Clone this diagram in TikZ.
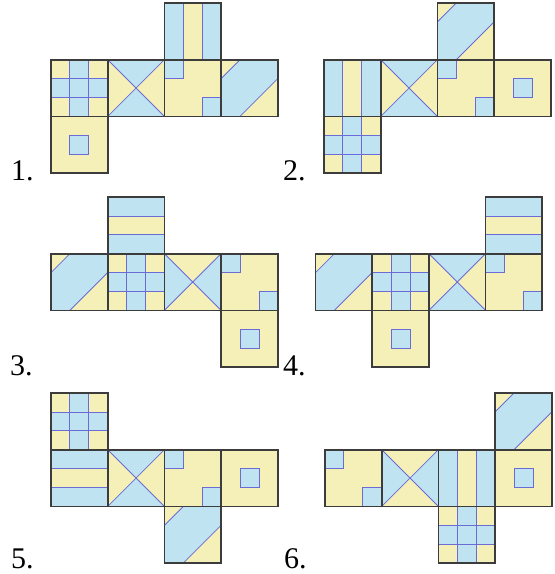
\documentclass[tikz,border=0pt]{standalone}
\usepackage{fontspec}
\setmainfont{Liberation Serif}
\definecolor{cb}{HTML}{BFE3F0}
\definecolor{cy}{HTML}{F5F0B8}
\definecolor{cl}{HTML}{6B6BD6}
\definecolor{co}{HTML}{3C3C3C}
\pgfdeclarelayer{top}
\pgfsetlayers{main,top}
\newcommand{\faceoutline}{\begin{pgfonlayer}{top}\draw[outl] (0,0) rectangle (1,1);\end{pgfonlayer}}
\tikzset{
 inner/.style={draw=cl,line width=0.8pt},
 outl/.style={draw=co,line width=1.7pt},
 lab/.style={anchor=base west,inner sep=0pt,font=\fontsize{30}{30}\selectfont},
 fc/.style={scale=56.7},
 facegrid/.pic={
  \fill[cy] (0,0) rectangle (1,1);
  \fill[cb] (0.3333,0) rectangle (0.6667,1);
  \fill[cb] (0,0.3333) rectangle (1,0.6667);
  \draw[inner] (0.3333,0)--(0.3333,1) (0.6667,0)--(0.6667,1) (0,0.3333)--(1,0.3333) (0,0.6667)--(1,0.6667);
  \faceoutline
 },
 facextb/.pic={
  \fill[cy] (0,0) rectangle (1,1);
  \fill[cb] (0,0)--(1,0)--(0.5,0.5)--cycle;
  \fill[cb] (0,1)--(1,1)--(0.5,0.5)--cycle;
  \draw[inner] (0,0)--(1,1) (1,0)--(0,1);
  \faceoutline
 },
 facexlr/.pic={
  \fill[cy] (0,0) rectangle (1,1);
  \fill[cb] (0,0)--(0,1)--(0.5,0.5)--cycle;
  \fill[cb] (1,0)--(1,1)--(0.5,0.5)--cycle;
  \draw[inner] (0,0)--(1,1) (1,0)--(0,1);
  \faceoutline
 },
 facesv/.pic={
  \fill[cy] (0,0) rectangle (1,1);
  \fill[cb] (0,0) rectangle (0.3333,1);
  \fill[cb] (0.6667,0) rectangle (1,1);
  \draw[inner] (0.3333,0)--(0.3333,1) (0.6667,0)--(0.6667,1);
  \faceoutline
 },
 facesh/.pic={
  \fill[cy] (0,0) rectangle (1,1);
  \fill[cb] (0,0) rectangle (1,0.3333);
  \fill[cb] (0,0.6667) rectangle (1,1);
  \draw[inner] (0,0.3333)--(1,0.3333) (0,0.6667)--(1,0.6667);
  \faceoutline
 },
 facecorn/.pic={
  \fill[cy] (0,0) rectangle (1,1);
  \fill[cb] (0,0) rectangle (0.3333,0.3333);
  \fill[cb] (0.6667,0.6667) rectangle (1,1);
  \draw[inner] (0.3333,0)--(0.3333,0.3333)--(0,0.3333) (0.6667,1)--(0.6667,0.6667)--(1,0.6667);
  \faceoutline
 },
 facecen/.pic={
  \fill[cy] (0,0) rectangle (1,1);
  \fill[cb] (0.3333,0.3333) rectangle (0.6667,0.6667);
  \draw[inner] (0.3333,0.3333) rectangle (0.6667,0.6667);
  \faceoutline
 },
 facediag/.pic={
  \fill[cy] (0,0) rectangle (1,1);
  \fill[cb] (0.3333,0)--(1,0)--(1,0.3333)--(0.3333,1)--(0,1)--(0,0.3333)--cycle;
  \draw[inner] (0.3333,0)--(0,0.3333) (1,0.3333)--(0.3333,1);
  \faceoutline
 },
}
\begin{document}
\begin{tikzpicture}[x=1pt,y=-1pt]
\useasboundingbox (0,0) rectangle (555,574);
% Net 1
\pic[fc] at (51,59.7) {facegrid};
\pic[fc] at (107.7,59.7) {facextb};
\pic[fc] at (164.4,59.7) {facecorn};
\pic[fc] at (221.1,59.7) {facediag};
\pic[fc] at (164.4,3) {facesv};
\pic[fc] at (51,116.4) {facecen};
\node[lab] (l1) at (11,180) {1.};
% Net 2
\pic[fc] at (324,59.7) {facesv};
\pic[fc] at (380.7,59.7) {facextb};
\pic[fc] at (437.4,59.7) {facecorn};
\pic[fc] at (494.1,59.7) {facecen};
\pic[fc] at (437.4,3) {facediag};
\pic[fc] at (324,116.4) {facegrid};
\node[lab] (l2) at (283,180) {2.};
% Net 3
\pic[fc] at (51,253.7) {facediag};
\pic[fc] at (107.7,253.7) {facegrid};
\pic[fc] at (164.4,253.7) {facexlr};
\pic[fc] at (221.1,253.7) {facecorn};
\pic[fc] at (107.7,197) {facesh};
\pic[fc] at (221.1,310.4) {facecen};
\node[lab] (l3) at (10,375) {3.};
% Net 4
\pic[fc] at (315.5,253.7) {facediag};
\pic[fc] at (372.2,253.7) {facegrid};
\pic[fc] at (428.9,253.7) {facextb};
\pic[fc] at (485.6,253.7) {facecorn};
\pic[fc] at (485.6,197) {facesh};
\pic[fc] at (372.2,310.4) {facecen};
\node[lab] (l4) at (283,375) {4.};
% Net 5
\pic[fc] at (51,449.7) {facesh};
\pic[fc] at (107.7,449.7) {facextb};
\pic[fc] at (164.4,449.7) {facecorn};
\pic[fc] at (221.1,449.7) {facecen};
\pic[fc] at (51,393) {facegrid};
\pic[fc] at (164.4,506.4) {facediag};
\node[lab] (l5) at (11,568) {5.};
% Net 6
\pic[fc] at (325,449.7) {facecorn};
\pic[fc] at (381.7,449.7) {facexlr};
\pic[fc] at (438.4,449.7) {facesv};
\pic[fc] at (495.1,449.7) {facecen};
\pic[fc] at (495.1,393) {facediag};
\pic[fc] at (438.4,506.4) {facegrid};
\node[lab] (l6) at (284,568) {6.};
\end{tikzpicture}
\end{document}
